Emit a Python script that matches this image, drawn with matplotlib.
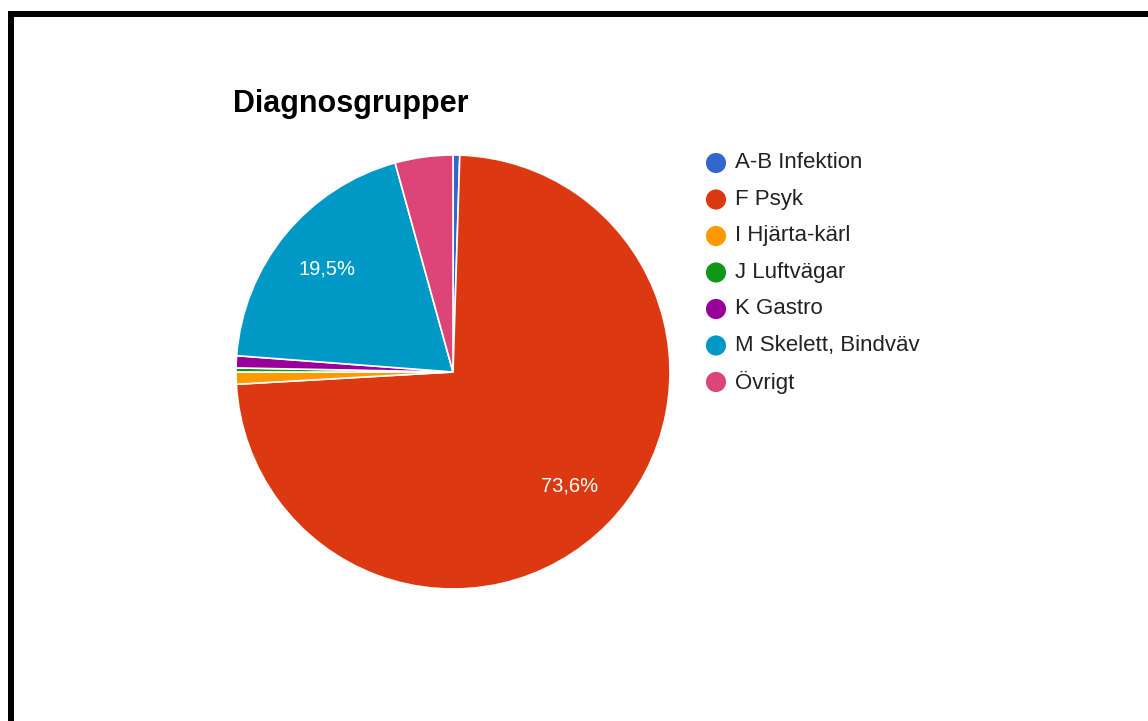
import matplotlib
matplotlib.use('Agg')
import matplotlib.pyplot as plt
from matplotlib.patches import Rectangle

plt.rcParams['font.family'] = ['Liberation Sans', 'DejaVu Sans']

# data
categories = ['A-B Infektion', 'F Psyk', 'I Hjärta-kärl', 'J Luftvägar',
              'K Gastro', 'M Skelett, Bindväv', 'Övrigt']
shares = [0.5, 73.6, 0.9, 0.3, 0.9, 19.5, 4.3]
colors = ['#3366cc', '#dc3912', '#ff9900', '#109618', '#990099', '#0099c6', '#dd4477']
title = 'Diagnosgrupper'

W, H = 1148, 721
fig = plt.figure(figsize=(W / 100, H / 100), dpi=100)
fig.patch.set_facecolor('white')

# overlay in pixel coords for frame, title and legend
over = fig.add_axes([0, 0, 1, 1])
over.set_xlim(0, W)
over.set_ylim(H, 0)
over.axis('off')
over.patch.set_alpha(0)

over.add_patch(Rectangle((8, 11), 6, H - 11, color='black', lw=0))
over.add_patch(Rectangle((8, 11), W - 8, 6, color='black', lw=0))

over.text(233, 112, title, fontsize=22, fontweight='bold', color='black',
          ha='left', va='baseline')

for i, (lab, col) in enumerate(zip(categories, colors)):
    y = 163 + i * 36.5
    over.scatter([716], [y], s=14.5 ** 2, color=col, edgecolors='none')
    over.text(735, y, lab, fontsize=16, color='#222222', ha='left', va='center')

# pie
cx, cy, r = 453, 372, 217
pax = fig.add_axes([(cx - r) / W, (H - cy - r) / H, 2 * r / W, 2 * r / H])


def fmt(p):
    return ('%.1f%%' % p).replace('.', ',') if p > 5 else ''


wedges, texts, autotexts = pax.pie(
    shares, colors=colors, startangle=90, counterclock=False, radius=1,
    autopct=fmt, pctdistance=0.75,
    wedgeprops=dict(edgecolor='white', linewidth=1.2),
    textprops=dict(color='white', fontsize=14.5))
pax.set_xlim(-1, 1)
pax.set_ylim(-1, 1)
pax.set_aspect('auto')
pax.axis('off')

fig.savefig('out.png', dpi=100, facecolor='white')
